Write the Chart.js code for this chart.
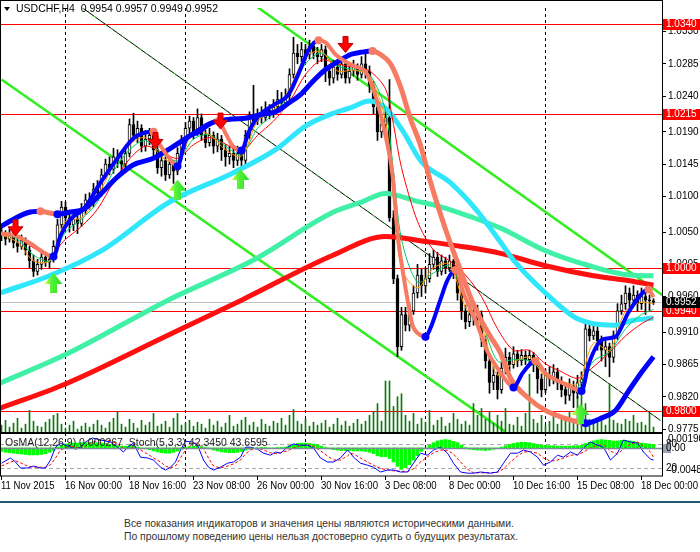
<!DOCTYPE html>
<html><head><meta charset="utf-8">
<script src="https://cdn.jsdelivr.net/npm/chart.js@4.4.1/dist/chart.umd.min.js"></script>
<style>
html,body{margin:0;padding:0;background:#fff;width:700px;height:552px;overflow:hidden;position:relative;}
canvas{position:absolute;left:0;}
#main{top:0;}
#osc{top:433px;}
#sep{position:absolute;left:0;top:501px;width:700px;height:2px;background:#215a6e;}
.note{position:absolute;left:124px;font:11px "Liberation Sans",Arial,sans-serif;color:#333;white-space:nowrap;line-height:14px;transform:scaleX(0.94);transform-origin:0 0;}
</style></head><body>
<canvas id="main" width="700" height="445"></canvas>
<canvas id="osc" width="700" height="68"></canvas>
<div id="sep"></div>
<div class="note" style="top:516px">Все показания индикаторов и значения цены являются историческими данными.</div>
<div class="note" style="top:529px">По прошлому поведению цены нельзя достоверно судить о будущих результатах.</div>
<script>
// ---------- DATA (USDCHF H4, bar index 0 = 11 Nov 2015 08:00) ----------
const symbolTitle = 'USDCHF,H4';
const opens = [1.0050,1.0045,1.0040,1.0048,1.0035,1.0030,1.0038,1.0025,1.0010,0.9995,
 1.0005,1.0015,1.0008,1.0012,1.0030,1.0060,1.0085,1.0070,1.0060,1.0068,
 1.0062,1.0080,1.0095,1.0090,1.0110,1.0105,1.0130,1.0145,1.0138,1.0155,
 1.0150,1.0145,1.0160,1.0200,1.0185,1.0195,1.0170,1.0180,1.0185,1.0165,
 1.0140,1.0150,1.0130,1.0145,1.0135,1.0160,1.0175,1.0195,1.0205,1.0190,
 1.0210,1.0185,1.0175,1.0185,1.0170,1.0180,1.0165,1.0155,1.0160,1.0150,
 1.0160,1.0150,1.0185,1.0210,1.0205,1.0215,1.0210,1.0220,1.0215,1.0225,
 1.0235,1.0230,1.0240,1.0270,1.0300,1.0295,1.0305,1.0298,1.0310,1.0300,
 1.0295,1.0305,1.0275,1.0265,1.0280,1.0270,1.0285,1.0265,1.0275,1.0280,
 1.0270,1.0285,1.0275,1.0255,1.0225,1.0190,1.0200,1.0210,1.0070,0.9985,
 0.9890,0.9935,0.9920,0.9940,0.9965,0.9990,0.9975,0.9985,1.0005,1.0015,
 0.9995,1.0010,1.0000,1.0010,0.9995,0.9965,0.9940,0.9925,0.9935,0.9930,
 0.9935,0.9900,0.9870,0.9840,0.9850,0.9830,0.9860,0.9875,0.9865,0.9880,
 0.9870,0.9878,0.9872,0.9878,0.9865,0.9845,0.9830,0.9850,0.9845,0.9855,
 0.9840,0.9830,0.9822,0.9835,0.9825,0.9840,0.9845,0.9915,0.9905,0.9912,
 0.9898,0.9885,0.9890,0.9875,0.9905,0.9940,0.9950,0.9965,0.9955,0.9962,
 0.9950,0.9960,0.9955,0.9954];
const highs = [1.0058,1.0052,1.0055,1.0052,1.0042,1.0046,1.0042,1.0030,1.0018,1.0012,
 1.0020,1.0022,1.0018,1.0038,1.0068,1.0093,1.0092,1.0078,1.0075,1.0072,
 1.0090,1.0103,1.0105,1.0118,1.0122,1.0138,1.0152,1.0155,1.0167,1.0165,
 1.0158,1.0170,1.0208,1.0216,1.0205,1.0200,1.0192,1.0195,1.0190,1.0170,
 1.0160,1.0155,1.0152,1.0150,1.0168,1.0185,1.0203,1.0212,1.0210,1.0222,
 1.0215,1.0192,1.0195,1.0190,1.0188,1.0185,1.0172,1.0170,1.0168,1.0170,
 1.0165,1.0192,1.0218,1.0255,1.0222,1.0225,1.0232,1.0228,1.0235,1.0248,
 1.0245,1.0250,1.0278,1.0322,1.0312,1.0315,1.0312,1.0318,1.0316,1.0308,
 1.0312,1.0310,1.0282,1.0290,1.0288,1.0292,1.0290,1.0282,1.0290,1.0285,
 1.0295,1.0300,1.0282,1.0260,1.0230,1.0208,1.0220,1.0263,1.0080,0.9990,
 0.9945,0.9945,0.9950,0.9975,1.0005,0.9998,1.0000,1.0020,1.0025,1.0022,
 1.0018,1.0015,1.0018,1.0012,1.0000,0.9970,0.9948,0.9945,0.9942,0.9948,
 0.9940,0.9905,0.9875,0.9862,0.9855,0.9868,0.9888,0.9882,0.9890,0.9885,
 0.9886,0.9884,0.9885,0.9882,0.9870,0.9852,0.9858,0.9862,0.9865,0.9860,
 0.9848,0.9840,0.9845,0.9842,0.9850,0.9855,0.9925,0.9922,0.9920,0.9918,
 0.9905,0.9898,0.9895,0.9912,0.9950,0.9962,0.9975,0.9972,0.9975,0.9968,
 0.9972,0.9968,0.9962,0.9957];
const lows = [1.0038,1.0032,1.0036,1.0028,1.0022,1.0026,1.0018,1.0000,0.9988,0.9990,
 0.9998,1.0002,1.0000,1.0008,1.0025,1.0055,1.0062,1.0050,1.0052,1.0048,
 1.0058,1.0075,1.0082,1.0085,1.0098,1.0100,1.0125,1.0130,1.0132,1.0140,
 1.0135,1.0140,1.0155,1.0178,1.0175,1.0162,1.0163,1.0172,1.0155,1.0132,
 1.0128,1.0122,1.0125,1.0118,1.0130,1.0152,1.0170,1.0185,1.0180,1.0185,
 1.0178,1.0168,1.0170,1.0160,1.0162,1.0150,1.0142,1.0145,1.0140,1.0143,
 1.0138,1.0145,1.0180,1.0198,1.0200,1.0202,1.0205,1.0208,1.0210,1.0220,
 1.0222,1.0225,1.0235,1.0265,1.0285,1.0288,1.0290,1.0292,1.0292,1.0285,
 1.0288,1.0260,1.0255,1.0258,1.0262,1.0265,1.0258,1.0258,1.0268,1.0262,
 1.0265,1.0265,1.0245,1.0215,1.0178,1.0182,1.0192,1.0065,0.9978,0.9876,
 0.9885,0.9912,0.9912,0.9935,0.9958,0.9960,0.9965,0.9980,0.9998,0.9988,
 0.9990,0.9992,0.9995,0.9985,0.9955,0.9928,0.9915,0.9918,0.9920,0.9922,
 0.9890,0.9860,0.9825,0.9830,0.9817,0.9825,0.9852,0.9855,0.9860,0.9862,
 0.9864,0.9865,0.9866,0.9855,0.9825,0.9820,0.9826,0.9835,0.9838,0.9830,
 0.9820,0.9810,0.9815,0.9805,0.9818,0.9830,0.9840,0.9898,0.9900,0.9885,
 0.9870,0.9862,0.9848,0.9868,0.9900,0.9935,0.9942,0.9945,0.9948,0.9940,
 0.9942,0.9935,0.9940,0.9949];
const closes = [1.0045,1.0040,1.0048,1.0035,1.0030,1.0038,1.0025,1.0010,0.9995,1.0005,
 1.0015,1.0008,1.0012,1.0030,1.0060,1.0085,1.0070,1.0060,1.0068,1.0062,
 1.0080,1.0095,1.0090,1.0110,1.0105,1.0130,1.0145,1.0138,1.0155,1.0150,
 1.0145,1.0160,1.0200,1.0185,1.0195,1.0170,1.0180,1.0185,1.0165,1.0140,
 1.0150,1.0130,1.0145,1.0135,1.0160,1.0175,1.0195,1.0205,1.0190,1.0210,
 1.0185,1.0175,1.0185,1.0170,1.0180,1.0165,1.0155,1.0160,1.0150,1.0160,
 1.0150,1.0185,1.0210,1.0205,1.0215,1.0210,1.0220,1.0215,1.0225,1.0235,
 1.0230,1.0240,1.0270,1.0300,1.0295,1.0305,1.0298,1.0310,1.0300,1.0295,
 1.0305,1.0275,1.0265,1.0280,1.0270,1.0285,1.0265,1.0275,1.0280,1.0270,
 1.0285,1.0275,1.0255,1.0225,1.0190,1.0200,1.0210,1.0070,0.9985,0.9890,
 0.9935,0.9920,0.9940,0.9965,0.9990,0.9975,0.9985,1.0005,1.0015,0.9995,
 1.0010,1.0000,1.0010,0.9995,0.9965,0.9940,0.9925,0.9935,0.9930,0.9935,
 0.9900,0.9870,0.9840,0.9850,0.9830,0.9860,0.9875,0.9865,0.9880,0.9870,
 0.9878,0.9872,0.9878,0.9865,0.9845,0.9830,0.9850,0.9845,0.9855,0.9840,
 0.9830,0.9822,0.9835,0.9825,0.9840,0.9845,0.9915,0.9905,0.9912,0.9898,
 0.9885,0.9890,0.9875,0.9905,0.9940,0.9950,0.9965,0.9955,0.9962,0.9950,
 0.9960,0.9955,0.9954,0.9952];
const volumes = [8,13,6,10,15,5,9,23,12,7, 6,11,14,18,20,9,5,8,12,4,
 7,10,6,9,13,8,5,11,15,22, 9,6,14,10,5,13,8,11,20,7,
 9,12,6,15,20,8,10,13,7,11, 9,5,14,8,12,6,10,18,7,9,
 13,16,8,11,6,14,9,7,12,10, 15,8,18,24,12,9,14,7,11,8,
 10,13,6,9,15,8,12,7,10,14, 9,12,18,22,30,12,53,53,27,37,
 40,18,12,20,9,15,11,23,8,13, 16,7,10,20,14,9,12,8,30,18,
 25,14,22,10,18,12,25,9,8,16, 7,20,60,14,10,18,8,12,20,9,
 14,16,22,11,37,45,30,14,10,12, 16,8,50,13,10,9,14,12,18,10,
 11,8,20,6];

// fast thin averages, read every few bars
const thinBars = [0,4,8,12,16,20,24,28,32,36,40,44,48,52,56,60,64,68,72,76,80,84,88,92,96,98,100,104,108,112,116,120,124,128,132,136,140,144,148,152,156,160,163];
const orangeMa = [1.0046,1.0036,1.0010,1.0010,1.0065,1.0070,1.0100,1.0143,1.0172,1.0182,1.0155,1.0148,1.0190,1.0186,1.0165,1.0156,1.0205,1.0220,1.0250,1.0295,1.0302,1.0275,1.0276,1.0268,1.0205,1.0102,0.9999,0.9972,1.0000,1.0005,0.9945,0.9918,0.9850,0.9868,0.9875,0.9848,0.9842,0.9838,0.9895,0.9885,0.9940,0.9952,0.9950];
const greenMa  = [1.0048,1.0040,1.0018,1.0010,1.0050,1.0068,1.0092,1.0135,1.0165,1.0178,1.0160,1.0150,1.0180,1.0186,1.0170,1.0158,1.0195,1.0215,1.0243,1.0285,1.0300,1.0282,1.0277,1.0270,1.0220,1.0135,1.0040,0.9980,0.9993,1.0003,0.9960,0.9925,0.9870,0.9872,0.9870,0.9853,0.9840,0.9833,0.9870,0.9883,0.9915,0.9935,0.9942];
const redThinMa = [1.0050,1.0043,1.0028,1.0018,1.0040,1.0058,1.0082,1.0120,1.0152,1.0170,1.0162,1.0153,1.0172,1.0182,1.0173,1.0162,1.0185,1.0205,1.0232,1.0270,1.0290,1.0285,1.0280,1.0275,1.0250,1.0200,1.0140,1.0065,1.0025,1.0010,0.9990,0.9960,0.9915,0.9885,0.9885,0.9866,0.9855,0.9846,0.9862,0.9882,0.9905,0.9922,0.9931];

// slow thick averages
const redMaBars = [-0.4,16,42,60,83,96,106,115,125,136,148,157,163];
const redMaVals = [0.9804,0.9838,0.9907,0.9955,1.0018,1.0044,1.0037,1.0030,1.0020,1.0003,0.9989,0.9982,0.9976];
const aquaMaBars = [-0.4,16,42,63,83,90,96,104,110,117,125,136,147,157,163];
const aquaMaVals = [0.9839,0.9879,0.9956,1.0011,1.0078,1.0092,1.0104,1.0093,1.0085,1.0072,1.0055,1.0024,1.0003,0.9990,0.9989];
const cyanMaBars = [-0.4,12,25,42,58,69,76,83,87,92,96,100,105,112,119,125,128,136,144,153,158,163];
const cyanMaVals = [0.9965,0.9989,1.0024,1.0092,1.0133,1.0167,1.0198,1.0216,1.0223,1.0233,1.0223,1.0194,1.0148,1.0120,1.0079,1.0034,1.0011,0.9965,0.9929,0.9920,0.9927,0.9930];

// trend lines (blue when rising, salmon when falling)
const slowTrendBars = [-0.4,3,6.5,9.75,11.75,14,17.25,20.5,24.75,29,33,38,42.25,47.25,52.75,57.75,61,64.75,68.5,71.75,74.75,77.75,81,83.5,87.25,89.75,92.75,94.75,97.25,99.75,102.25,104.75,107.25,109.75,112.25,114.75,117.25,119.75,122.25,124.75,127.25,131.75,136,140.25,144.25,146,150.25,153.5,156.75,160.25,163];
const slowTrendVals = [1.0057,1.0068,1.0077,1.0079,1.0077,1.0075,1.0078,1.0082,1.0103,1.0127,1.0144,1.0153,1.0167,1.0185,1.0203,1.0208,1.0209,1.0214,1.0218,1.0230,1.0242,1.0260,1.0277,1.0286,1.0298,1.0301,1.0303,1.0298,1.0285,1.0253,1.0208,1.0171,1.0120,1.0075,1.0034,0.9997,0.9959,0.9929,0.9904,0.9881,0.9846,0.9818,0.9801,0.9791,0.9785,0.9783,0.9791,0.9801,0.9828,0.9856,0.9876];
const fastTrendBars = [-0.4,3.5,7.25,11,13,14.75,17.25,20.5,24.75,29,33,36,38,39.75,42.25,44,46,49.25,52.25,54.25,56,57.75,60,61.75,64.25,68.5,71.75,74.25,76.75,79.25,81,83.5,86,88.5,91,93.5,96,97.75,99,100.5,101.75,102.75,104.25,106,107.25,109.75,111.5,113.5,115.5,119,121.5,124,126.25,128,130.25,133.5,136,139.25,142.25,145,146.75,150.25,153.5,156.75,160.25,161.75,163];
const fastTrendVals = [1.0048,1.0045,1.0034,1.0020,1.0016,1.0045,1.0068,1.0082,1.0119,1.0153,1.0181,1.0189,1.0190,1.0171,1.0151,1.0142,1.0178,1.0189,1.0201,1.0205,1.0188,1.0171,1.0164,1.0189,1.0212,1.0229,1.0242,1.0271,1.0304,1.0318,1.0315,1.0298,1.0288,1.0281,1.0274,1.0240,1.0185,1.0130,1.0048,0.9989,0.9948,0.9920,0.9908,0.9904,0.9916,0.9956,0.9983,0.9997,0.9965,0.9920,0.9883,0.9860,0.9842,0.9833,0.9853,0.9870,0.9853,0.9842,0.9834,0.9828,0.9865,0.9900,0.9904,0.9938,0.9965,0.9970,0.9959];

// horizontal levels, bid line
const redLevels = [1.0340, 1.0215, 1.0000, 0.9940, 0.9800];
const bidPrice = 0.9952;
// channel lines [bar, price] -> [bar, price]
const channelLines = [[[0,1.0263],[126,0.9771]], [[64,1.0364],[165.25,0.9962]]];
const thinTrend = [[20.25,1.0363],[164.75,0.9787]];
// signal arrows [bar, price]
const sellArrows = [[3.5,1.0056],[38.5,1.0178],[54.75,1.0205],[86,1.0312]];
const buyArrows  = [[13,0.9979],[44,1.0109],[59.75,1.0124],[144.75,0.9796]];
// axes
const priceTicks = [1.0330,1.0285,1.0240,1.0190,1.0145,1.0100,1.0050,1.0005,0.9960,0.9910,0.9865,0.9820,0.9775];
const weekSeparators = [16,46,76,106,136];
const dateLabels = ['11 Nov 2015','16 Nov 00:00','18 Nov 16:00','23 Nov 08:00','26 Nov 00:00','30 Nov 16:00','3 Dec 08:00','8 Dec 00:00','10 Dec 16:00','15 Dec 08:00','18 Dec 00:00'];
const dateBars = [0,16,32,48,64,80,96,112,128,144,160];

// oscillator
const osma = [-0.0008,-0.0010,-0.0011,-0.0012,-0.0013,-0.0014,-0.0015,-0.0016,-0.0016,-0.0016,-0.0015,-0.0013,-0.0010,-0.0006,
 0.0002,0.0006,0.0009,0.0010,0.0011,0.0011,0.0012,0.0012,0.0013,0.0012,0.0012,0.0011,0.0010,
 0.0008,0.0007,0.0005,0.0004,0.0004,0.0005,0.0004,0.0002,0.0000,-0.0002,-0.0004,
 -0.0007,-0.0009,-0.0011,-0.0012,-0.0012,-0.0010,-0.0007,-0.0003,
 0.0001,0.0003,0.0004,0.0004,0.0003,0.0001,
 -0.0002,-0.0005,-0.0007,-0.0009,-0.0010,-0.0011,-0.0011,-0.0010,-0.0008,
 -0.0005,-0.0003,-0.0001,0.0000,0.0001,0.0001,0.0000,0.0000,0.0001,0.0001,0.0002,
 0.0005,0.0008,0.0010,0.0011,0.0011,0.0010,0.0009,0.0007,
 0.0004,0.0001,-0.0002,-0.0004,-0.0005,-0.0006,-0.0006,-0.0006,-0.0007,
 -0.0007,-0.0007,-0.0008,-0.0010,-0.0013,-0.0018,-0.0020,-0.0020,-0.0024,-0.0032,-0.0042,-0.0049,-0.0045,-0.0038,-0.0028,-0.0018,
 -0.0008,-0.0002,
 0.0006,0.0012,0.0016,0.0018,0.0019,0.0018,0.0015,0.0012,0.0006,
 0.0001,-0.0003,-0.0004,-0.0005,-0.0005,
 -0.0006,-0.0005,-0.0003,-0.0001,0.0002,
 0.0005,0.0008,0.0010,0.0012,0.0013,0.0013,0.0012,0.0010,
 0.0008,0.0006,0.0006,0.0005,0.0005,0.0004,0.0004,0.0004,0.0004,0.0005,0.0005,0.0006,
 0.0010,0.0013,0.0016,0.0018,0.0019,0.0018,0.0017,0.0016,0.0016,0.0017,0.0017,0.0016,0.0015,
 0.0013,0.0011,0.0010,0.0009,0.0008];
const stochBars = [0,2.25,3.5,4.75,6.5,8,9.75,11,12.25,13.5,14.75,17.25,18.5,19.75,21,22.75,24.75,27.25,29,30.5,31.5,33,34.75,36.5,38,39.75,41,42.25,43.5,44.75,46,47.75,49,50.5,51.75,53,54.75,56.5,58,59.75,61,62.25,64,65.5,67.25,68.5,69.75,71.5,73,74.75,76.5,78,79.75,81.5,83,84.75,86.5,87.25,88,89.75,91.5,93,94.75,96.5,98,99.75,101.5,103,104.75,106.5,108,109.75,111.5,113,114.75,116.5,118,119.75,122.25,124,125.5,127.25,129,130.5,132.25,134,135.5,137.25,139,140.5,142.25,144,145.5,147.25,149,150.5,152.25,154,155.5,157.25,159,160.5,162.25,163];
const stochMain = [32,45,35,20,20,25,20,20,40,72,82,72,67,72,85,95,90,85,72,60,72,82,47,45,40,22,15,22,35,65,87,85,77,40,22,15,22,32,35,47,72,72,67,57,52,60,57,72,80,77,77,70,45,35,35,45,65,57,47,32,27,22,10,15,15,10,10,32,57,52,65,72,57,32,10,7,7,10,7,10,32,57,57,65,60,47,27,35,52,47,60,52,70,85,77,72,40,57,90,85,82,60,42,40];
const stochSignal = [25,35,38,33,25,22,22,22,28,45,65,75,72,70,75,85,90,88,80,70,68,72,65,55,45,35,25,20,25,45,65,80,83,68,45,25,20,25,30,40,55,65,70,65,58,56,58,63,70,76,78,75,63,50,40,40,50,57,55,45,35,27,19,15,13,12,11,18,35,48,58,65,64,55,35,17,8,8,8,9,18,35,50,60,61,57,45,37,40,45,52,53,60,70,77,78,62,55,67,80,85,75,60,47];
const osmaTitle = 'OsMA(12,26,9) 0.000267  Stoch(5,3,3) 42.3450 43.6595';
const osmaMax = 0.00190, osmaMin = -0.00486;

// ---------- RENDERING ----------
const FONT = '"Liberation Sans", Arial, sans-serif';
Chart.defaults.font.family = FONT;
Chart.defaults.font.size = 10;
Chart.defaults.color = '#000';
const X_MIN = -0.375, X_MAX = 165.125;
const Y_MIN = 0.97695, Y_MAX = 1.03629;
const BLUE = '#0000ff', SALMON = '#f77b62';
const xy = (bs, vs) => bs.map((b, i) => ({x: b, y: vs[i]}));
const idx = closes.map((c, i) => i);

function turnRadius(ctx) {
  const d = ctx.dataset.data, i = ctx.dataIndex;
  if (i <= 0 || i >= d.length - 1) return 0;
  const p = d[i-1].y, c = d[i].y, n = d[i+1].y;
  return ((c > p && c >= n) || (c < p && c <= n)) ? 4 : 0;
}
function turnColor(ctx) {
  const d = ctx.dataset.data, i = ctx.dataIndex;
  if (i <= 0 || i >= d.length - 1) return BLUE;
  return d[i].y > d[i-1].y ? SALMON : BLUE;
}
const segColor = {borderColor: c => c.p1.parsed.y >= c.p0.parsed.y ? BLUE : SALMON};

function lineDs(data, color, width, order, extra) {
  return Object.assign({type:'line', data, borderColor: color, borderWidth: width, pointRadius: 0,
    cubicInterpolationMode:'monotone', order, yAxisID:'y', fill:false}, extra || {});
}

function arrowDown(ctx, x, y) {
  ctx.fillStyle = '#ff0000';
  ctx.beginPath();
  ctx.moveTo(x-2.5, y-8); ctx.lineTo(x+2.5, y-8); ctx.lineTo(x+2.5, y-1); ctx.lineTo(x+7.5, y-1);
  ctx.lineTo(x, y+8); ctx.lineTo(x-7.5, y-1); ctx.lineTo(x-2.5, y-1); ctx.closePath(); ctx.fill();
  ctx.strokeStyle = '#c00000'; ctx.lineWidth = 1; ctx.stroke();
}
function arrowUp(ctx, x, y) {
  const g = ctx.createLinearGradient(x-9, 0, x+9, 0);
  g.addColorStop(0, '#eaff3c'); g.addColorStop(0.35, '#5cf23a'); g.addColorStop(1, '#22e022');
  ctx.fillStyle = g;
  ctx.beginPath();
  ctx.moveTo(x, y-10); ctx.lineTo(x+9, y+1); ctx.lineTo(x+3.5, y+1); ctx.lineTo(x+3.5, y+10);
  ctx.lineTo(x-3.5, y+10); ctx.lineTo(x-3.5, y+1); ctx.lineTo(x-9, y+1); ctx.closePath(); ctx.fill();
}
function priceBox(ctx, y, text, bg) {
  const yy = Math.round(y);
  ctx.fillStyle = bg; ctx.fillRect(663, yy-5, 37, 11);
  ctx.fillStyle = '#fff'; ctx.font = '10px ' + FONT; ctx.textBaseline = 'middle'; ctx.textAlign = 'left';
  ctx.fillText(text, 666, yy + 0.5);
}

const mainDecor = {
  id: 'mainDecor',
  beforeDatasetsDraw(chart) {
    const {ctx, chartArea: a} = chart, xs = chart.scales.x, ys = chart.scales.y;
    ctx.save();
    ctx.beginPath(); ctx.rect(a.left, a.top, a.right - a.left, a.bottom - a.top); ctx.clip();
    ctx.lineWidth = 1; ctx.strokeStyle = '#000'; ctx.setLineDash([3, 3]);
    weekSeparators.forEach(b => {
      const x = Math.floor(xs.getPixelForValue(b)) + 0.5;
      ctx.beginPath(); ctx.moveTo(x, a.top); ctx.lineTo(x, a.bottom); ctx.stroke();
    });
    ctx.setLineDash([]);
    ctx.strokeStyle = '#ff0000';
    redLevels.forEach(v => {
      const y = Math.round(ys.getPixelForValue(v)) + 0.5;
      ctx.beginPath(); ctx.moveTo(a.left, y); ctx.lineTo(a.right, y); ctx.stroke();
    });
    ctx.strokeStyle = '#c0c0c0';
    const by = Math.round(ys.getPixelForValue(bidPrice)) + 0.5;
    ctx.beginPath(); ctx.moveTo(a.left, by); ctx.lineTo(a.right, by); ctx.stroke();
    const seg = (p, q) => {
      ctx.beginPath();
      ctx.moveTo(xs.getPixelForValue(p[0]), ys.getPixelForValue(p[1]));
      ctx.lineTo(xs.getPixelForValue(q[0]), ys.getPixelForValue(q[1]));
      ctx.stroke();
    };
    ctx.strokeStyle = '#000'; ctx.lineWidth = 1; seg(thinTrend[0], thinTrend[1]);
    ctx.strokeStyle = '#22dd22'; ctx.setLineDash([2, 5]); seg(thinTrend[0], thinTrend[1]);
    ctx.setLineDash([]);
    ctx.strokeStyle = '#33ee22'; ctx.lineWidth = 2.6;
    channelLines.forEach(l => seg(l[0], l[1]));
    ctx.restore();
  },
  afterDatasetsDraw(chart) {
    const {ctx, chartArea: a} = chart, xs = chart.scales.x, ys = chart.scales.y;
    ctx.save();
    ctx.beginPath(); ctx.rect(a.left, a.top, a.right - a.left, a.bottom - a.top); ctx.clip();
    sellArrows.forEach(p => arrowDown(ctx, xs.getPixelForValue(p[0]), ys.getPixelForValue(p[1])));
    buyArrows.forEach(p => arrowUp(ctx, xs.getPixelForValue(p[0]), ys.getPixelForValue(p[1])));
    ctx.restore();
    ctx.save();
    ctx.strokeStyle = '#000'; ctx.lineWidth = 1;
    ctx.strokeRect(0.5, 0.5, Math.round(a.right), Math.round(a.bottom) - 1);
    // title
    const n = closes.length - 1;
    ctx.fillStyle = '#000';
    ctx.beginPath(); ctx.moveTo(4, 7); ctx.lineTo(10, 7); ctx.lineTo(7, 11); ctx.closePath(); ctx.fill();
    ctx.font = '10.5px ' + FONT; ctx.textBaseline = 'middle'; ctx.textAlign = 'left';
    ctx.fillText(symbolTitle + '  ' + [opens[n], highs[n], lows[n], closes[n]].map(v => v.toFixed(4)).join(' '), 16, 9.5);
    ctx.restore();
  },
  afterDraw(chart) {
    const {ctx} = chart, ys = chart.scales.y;
    ctx.save();
    redLevels.forEach(v => priceBox(ctx, ys.getPixelForValue(v), v.toFixed(4), '#ff0000'));
    priceBox(ctx, ys.getPixelForValue(bidPrice), bidPrice.toFixed(4), '#000');
    ctx.restore();
  }
};

new Chart(document.getElementById('main'), {
  type: 'bar',
  data: {
    datasets: [
      {type:'bar', data: idx.map(i => ({x:i, y:volumes[i]})), yAxisID:'yv', backgroundColor:'#0a7a0a', barThickness:1, grouped:false, order:20},
      {type:'bar', data: idx.map(i => ({x:i, y:[lows[i], highs[i]]})), yAxisID:'y', backgroundColor:'#000', barThickness:1, grouped:false, order:19},
      {type:'bar', data: idx.map(i => ({x:i, y:[opens[i], closes[i]]})), yAxisID:'y',
        backgroundColor: idx.map(i => closes[i] >= opens[i] ? '#fff' : '#000'),
        borderColor:'#000', borderWidth:1, borderSkipped:false, barThickness:3, minBarLength:1, grouped:false, order:18},
      lineDs(xy(redMaBars, redMaVals), '#ff1010', 5, 12),
      lineDs(xy(aquaMaBars, aquaMaVals), '#3ff0a6', 5, 12),
      lineDs(xy(cyanMaBars, cyanMaVals), '#30e6fa', 5, 11),
      lineDs(xy(thinBars, redThinMa), '#ff0000', 1, 9, {cubicInterpolationMode:'default', tension:0.3}),
      lineDs(xy(thinBars, greenMa), '#00cc66', 1, 8, {cubicInterpolationMode:'default', tension:0.3}),
      lineDs(xy(thinBars, orangeMa), '#ff9900', 1, 7, {cubicInterpolationMode:'default', tension:0.3}),
      lineDs(xy(slowTrendBars, slowTrendVals), BLUE, 5, 4, {segment: segColor, pointRadius: turnRadius, pointBackgroundColor: turnColor, pointBorderWidth:0}),
      lineDs(xy(fastTrendBars, fastTrendVals), BLUE, 4, 3, {segment: segColor, pointRadius: turnRadius, pointBackgroundColor: turnColor, pointBorderWidth:0})
    ]
  },
  options: {
    responsive:false, animation:false, events:[],
    layout:{padding:{left:0, right:0, top:0, bottom:12}},
    plugins:{legend:{display:false}, tooltip:{enabled:false}},
    scales:{
      x:{type:'linear', min:X_MIN, max:X_MAX, offset:false, display:false},
      y:{type:'linear', position:'right', min:Y_MIN, max:Y_MAX,
        afterFit(s){ s.width = 38; },
        afterBuildTicks(s){ s.ticks = priceTicks.map(v => ({value:v})); },
        ticks:{autoSkip:false, padding:2, color:'#000', font:{size:10}, callback: v => Number(v).toFixed(4)},
        grid:{drawOnChartArea:false, drawTicks:true, tickLength:4, color:'#000'},
        border:{display:true, color:'#000'}},
      yv:{type:'linear', display:false, min:0, max:433}
    }
  },
  plugins:[mainDecor]
});

const oscDecor = {
  id:'oscDecor',
  beforeDatasetsDraw(chart) {
    const {ctx, chartArea:a} = chart, xs = chart.scales.x, ss = chart.scales.ys;
    ctx.save();
    ctx.beginPath(); ctx.rect(a.left, a.top, a.right - a.left, a.bottom - a.top); ctx.clip();
    ctx.lineWidth = 1;
    ctx.strokeStyle = '#a8a8a8'; ctx.setLineDash([4, 3]);
    [80, 20].forEach(v => { const y = Math.round(ss.getPixelForValue(v)) + 0.5; ctx.beginPath(); ctx.moveTo(a.left, y); ctx.lineTo(a.right, y); ctx.stroke(); });
    ctx.strokeStyle = '#000'; ctx.setLineDash([3, 3]);
    weekSeparators.forEach(b => { const x = Math.floor(xs.getPixelForValue(b)) + 0.5; ctx.beginPath(); ctx.moveTo(x, a.top); ctx.lineTo(x, a.bottom); ctx.stroke(); });
    ctx.setLineDash([]);
    ctx.restore();
  },
  afterDatasetsDraw(chart) {
    const {ctx, chartArea:a} = chart, xs = chart.scales.x, yo = chart.scales.yo, ss = chart.scales.ys;
    ctx.save();
    ctx.strokeStyle = '#7d8a99'; ctx.lineWidth = 1.5;
    const zy = Math.round(yo.getPixelForValue(0)) + 0.5;
    ctx.beginPath(); ctx.moveTo(a.left, zy); ctx.lineTo(a.right, zy); ctx.stroke();
    ctx.fillStyle = '#222'; ctx.font = '10.5px ' + FONT; ctx.textBaseline = 'middle'; ctx.textAlign = 'left';
    ctx.fillText(osmaTitle, 5, 10);
    ctx.strokeStyle = '#000'; ctx.lineWidth = 1;
    ctx.strokeRect(0.5, 0.5, Math.round(a.right), Math.round(a.bottom) - 0.5);
    // right labels
    ctx.font = '10px ' + FONT; ctx.fillStyle = '#000';
    ctx.fillText(osmaMax.toFixed(5), 668, yo.getPixelForValue(osmaMax));
    ctx.fillText('80', 666, ss.getPixelForValue(80));
    ctx.fillStyle = '#9aa4b0'; ctx.fillRect(663, zy - 4.5, 8, 9);
    ctx.fillStyle = '#000'; ctx.fillText('0.00', 666, zy);
    ctx.fillText('20', 666, ss.getPixelForValue(20));
    ctx.fillText(osmaMin.toFixed(5), 668, yo.getPixelForValue(osmaMin) + 1);
    // date axis (MT4 style: tick + left-aligned label)
    ctx.font = '10px ' + FONT;
    const sx = 57 / ctx.measureText(dateLabels[1]).width;
    dateBars.forEach((b, k) => {
      const x = Math.floor(xs.getPixelForValue(b)) + 0.5;
      ctx.beginPath(); ctx.moveTo(x, a.bottom); ctx.lineTo(x, a.bottom + 4); ctx.stroke();
      ctx.save();
      ctx.translate(k === 0 ? 1 : x - 0.5, a.bottom + 10.5);
      ctx.scale(sx, 1);
      ctx.fillText(dateLabels[k], 0, 0);
      ctx.restore();
    });
    ctx.restore();
  }
};

new Chart(document.getElementById('osc'), {
  type:'bar',
  data:{
    datasets:[
      {type:'bar', data: idx.map(i => ({x:i, y:osma[i]})), yAxisID:'yo', backgroundColor:'#00ff00', barThickness:3, grouped:false, order:5},
      {type:'line', data: xy(stochBars, stochSignal), yAxisID:'ys', borderColor:'#ff0000', borderWidth:1, borderDash:[3,2], pointRadius:0, order:2},
      {type:'line', data: xy(stochBars, stochMain), yAxisID:'ys', borderColor:'#0000ff', borderWidth:1, pointRadius:0, order:1}
    ]
  },
  options:{
    responsive:false, animation:false, events:[],
    layout:{padding:{left:0, right:38, top:0, bottom:25}},
    plugins:{legend:{display:false}, tooltip:{enabled:false}},
    scales:{
      x:{type:'linear', min:X_MIN, max:X_MAX, offset:false, display:false},
      yo:{type:'linear', display:false, min:-0.0064, max:0.0034},
      ys:{type:'linear', display:false, min:0, max:107.5}
    }
  },
  plugins:[oscDecor]
});
</script>
</body></html>
